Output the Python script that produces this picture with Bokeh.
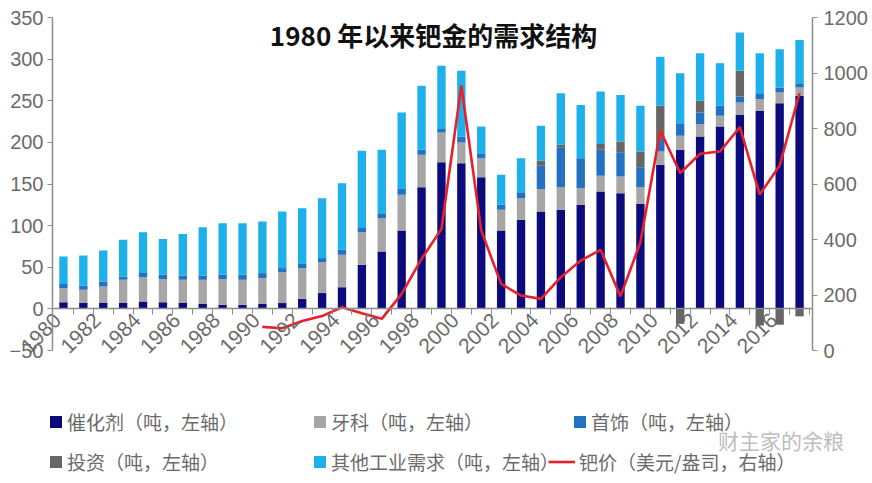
import numpy as np
from math import pi
from bokeh.plotting import figure
from bokeh.models import (Range1d, LinearAxis, FixedTicker, Legend, LegendItem,
                          Label, CustomJSTickFormatter)
from bokeh.embed import file_html
from bokeh.resources import INLINE

# ---------------- data ----------------
years = list(range(1980, 2018))
catalyst = [8, 7, 7, 7, 9, 8, 7, 6, 5, 5,
            6, 7, 12, 19, 26, 53, 69, 94, 146, 176,
            175, 158, 94, 107, 117, 119, 125, 141, 139, 126,
            173, 191, 207, 219, 233, 238, 247, 256]
dental = [17, 16, 20, 28, 29, 28, 28, 29, 31, 30,
          31, 37, 37, 37, 39, 39, 40, 43, 39, 36,
          25, 23, 25, 26, 27, 27, 20, 19, 20, 20,
          16, 17, 15, 13, 15, 14, 13, 10]
jewelry = [5, 5, 6, 4, 5, 5, 5, 5, 5, 6,
           6, 5, 5, 5, 6, 6, 6, 7, 6, 4,
           7, 6, 6, 7, 28, 48, 36, 31, 29, 24,
           14, 15, 14, 12, 7, 6, 6, 5]
investment = [0, 0, 0, 0, 0, 0, 0, 0, 0, 0,
              0, 0, 0, 0, 0, 0, 0, 0, 0, 0,
              0, 0, 0, 0, 6, 3, 0, 7, 13, 19,
              41, -18, 14, 0, 31, -20, -19, -9]
other = [33, 36, 37, 44, 49, 43, 50, 58, 62, 62,
         62, 68, 67, 72, 80, 92, 76, 92, 77, 76,
         79, 32, 36, 41, 42, 62, 64, 63, 56, 55,
         59, 60, 57, 51, 46, 49, 46, 52]
price_years = list(range(1990, 2018))
price = [85, 80, 106, 124, 156, 134, 114, 204, 330, 438,
         955, 432, 240, 198, 186, 264, 324, 363, 195, 390,
         793, 639, 709, 717, 805, 562, 667, 927]

left_ticks = [-50, 0, 50, 100, 150, 200, 250, 300, 350]
right_ticks = [0, 200, 400, 600, 800, 1000, 1200]
x_label_years = list(range(1980, 2017, 2))

title_text = "1980 年以来钯金的需求结构"
names = ["催化剂（吨，左轴）", "牙科（吨，左轴）", "首饰（吨，左轴）",
         "投资（吨，左轴）", "其他工业需求（吨，左轴）", "钯价（美元/盎司，右轴）"]
watermark = "财主家的余粮"

# ---------------- styles / layout ----------------
C_CAT = "#0b0b7e"
C_DEN = "#a6a6a6"
C_JEW = "#2271c3"
C_INV = "#666666"
C_OTH = "#1db0ea"
C_PRICE = "#e8202a"
AX_COL = "#8c8c8c"
TXT_COL = "#6b6b6b"
NUM_FONT = "'Liberation Sans Narrow', 'Liberation Sans', Arial, sans-serif"
CJK_FONT = "Noto Sans CJK SC"

# The frame fills the whole canvas; the chart body occupies
# x 52..812 px and y 17..350 px, axes are pinned with fixed_location.
CW, CH = 872, 483
BX0, BX1, BY0, BY1 = 52.0, 812.0, 17.0, 350.0
X_LO, X_HI = 1979.45, 2017.65
L_LO, L_HI = -50.0, 350.0
R_LO, R_HI = 0.0, 1200.0
xs = (X_HI - X_LO) / (BX1 - BX0)
ls = (L_HI - L_LO) / (BY1 - BY0)
rs = (R_HI - R_LO) / (BY1 - BY0)
x_range = Range1d(X_LO - BX0 * xs, X_HI + (CW - BX1) * xs)
y_range = Range1d(L_LO - (CH - BY1) * ls, L_HI + BY0 * ls)
r_range = Range1d(R_LO - (CH - BY1) * rs, R_HI + BY0 * rs)

c = np.array(catalyst, dtype=float)
d = np.array(dental, dtype=float)
j = np.array(jewelry, dtype=float)
inv = np.array(investment, dtype=float)
o = np.array(other, dtype=float)
inv_pos = np.clip(inv, 0, None)
b1 = c
b2 = b1 + d
b3 = b2 + j
b4 = b3 + inv_pos
b5 = b4 + o
yrs = np.array(years, dtype=float)
neg_mask = inv < 0

p = figure(width=CW, height=CH, x_range=x_range, y_range=y_range,
           output_backend="svg", toolbar_location=None,
           min_border_left=0, min_border_right=0,
           min_border_top=0, min_border_bottom=0)
p.extra_y_ranges = {"price": r_range}
p.xgrid.grid_line_color = None
p.ygrid.grid_line_color = None
p.outline_line_color = None
p.background_fill_color = "white"
p.border_fill_color = "white"

W = 0.42
r_cat = p.vbar(x=yrs, bottom=0, top=b1, width=W, fill_color=C_CAT, line_color=None)
r_den = p.vbar(x=yrs, bottom=b1, top=b2, width=W, fill_color=C_DEN, line_color=None)
r_jew = p.vbar(x=yrs, bottom=b2, top=b3, width=W, fill_color=C_JEW, line_color=None)
r_inv = p.vbar(x=yrs, bottom=b3, top=b4, width=W, fill_color=C_INV, line_color=None)
p.vbar(x=yrs[neg_mask], bottom=inv[neg_mask], top=0, width=W, fill_color=C_INV, line_color=None)
r_oth = p.vbar(x=yrs, bottom=b4, top=b5, width=W, fill_color=C_OTH, line_color=None)
r_price = p.line(x=price_years, y=price, y_range_name="price",
                 line_color=C_PRICE, line_width=2.6)

# x axis pinned at zero (labels shifted slightly left of each bar as in the source)
LABEL_SHIFT = 0.3
xa = p.xaxis[0]
xa.fixed_location = 0
xa.bounds = (X_LO, X_HI)
xa.ticker = FixedTicker(ticks=[y - LABEL_SHIFT for y in x_label_years],
                        minor_ticks=[y + 0.5 for y in range(1980, 2018)])
xa.formatter = CustomJSTickFormatter(code="return String(Math.round(tick + %s));" % LABEL_SHIFT)
xa.major_tick_line_color = None
xa.minor_tick_in = 0
xa.minor_tick_out = 6
xa.minor_tick_line_color = AX_COL
xa.axis_line_color = AX_COL
xa.axis_line_width = 1.5
xa.major_label_orientation = pi / 4
xa.major_label_text_font = NUM_FONT
xa.major_label_text_font_size = "21px"
xa.major_label_text_color = TXT_COL
xa.major_label_standoff = 2

ya = p.yaxis[0]
ya.fixed_location = X_LO
ya.bounds = (L_LO, L_HI)
ya.ticker = FixedTicker(ticks=left_ticks, minor_ticks=[])
ya.major_tick_in = 0
ya.major_tick_out = 5
ya.major_tick_line_color = AX_COL
ya.axis_line_color = AX_COL
ya.axis_line_width = 1.5
ya.major_label_text_font = NUM_FONT
ya.major_label_text_font_size = "20px"
ya.major_label_text_color = TXT_COL
ya.major_label_standoff = 4

ra = LinearAxis(y_range_name="price", bounds=(R_LO, R_HI), fixed_location=X_HI,
                ticker=FixedTicker(ticks=right_ticks, minor_ticks=[]))
ra.major_tick_in = 0
ra.major_tick_out = 5
ra.major_tick_line_color = AX_COL
ra.minor_tick_line_color = None
ra.axis_line_color = AX_COL
ra.axis_line_width = 1.5
ra.major_label_text_font = NUM_FONT
ra.major_label_text_font_size = "20px"
ra.major_label_text_color = TXT_COL
ra.major_label_standoff = 6
p.add_layout(ra, "right")

# title inside the chart body
p.add_layout(Label(x=1998.6, y=329, text=title_text, text_align="center",
                   text_baseline="middle", text_font=CJK_FONT,
                   text_font_size="26px", text_font_style="bold",
                   text_color="#111111"))

# watermark
p.add_layout(Label(x=2012.9, y=-157, text=watermark, text_align="left",
                   text_baseline="middle", text_font=CJK_FONT,
                   text_font_size="21px", text_color="#bdbdbd"))


def make_legend(item, loc, gw=15):
    return Legend(items=[item], orientation="horizontal", location=loc,
                  label_text_font=CJK_FONT, label_text_font_size="19px",
                  label_text_color=TXT_COL, glyph_width=gw, glyph_height=15,
                  label_height=20, label_standoff=4,
                  padding=0, margin=0, spacing=0,
                  border_line_color=None, background_fill_alpha=0)


legend_specs = [
    (names[0], r_cat, (48, 48), 15),
    (names[1], r_den, (312, 48), 15),
    (names[2], r_jew, (572, 48), 15),
    (names[3], r_inv, (48, 8), 15),
    (names[4], r_oth, (312, 8), 15),
    (names[5], r_price, (548, 8), 27),
]
for lab, rend, loc, gw in legend_specs:
    p.add_layout(make_legend(LegendItem(label=lab, renderers=[rend]), loc, gw))

open("out.html", "w").write(file_html(p, INLINE))
